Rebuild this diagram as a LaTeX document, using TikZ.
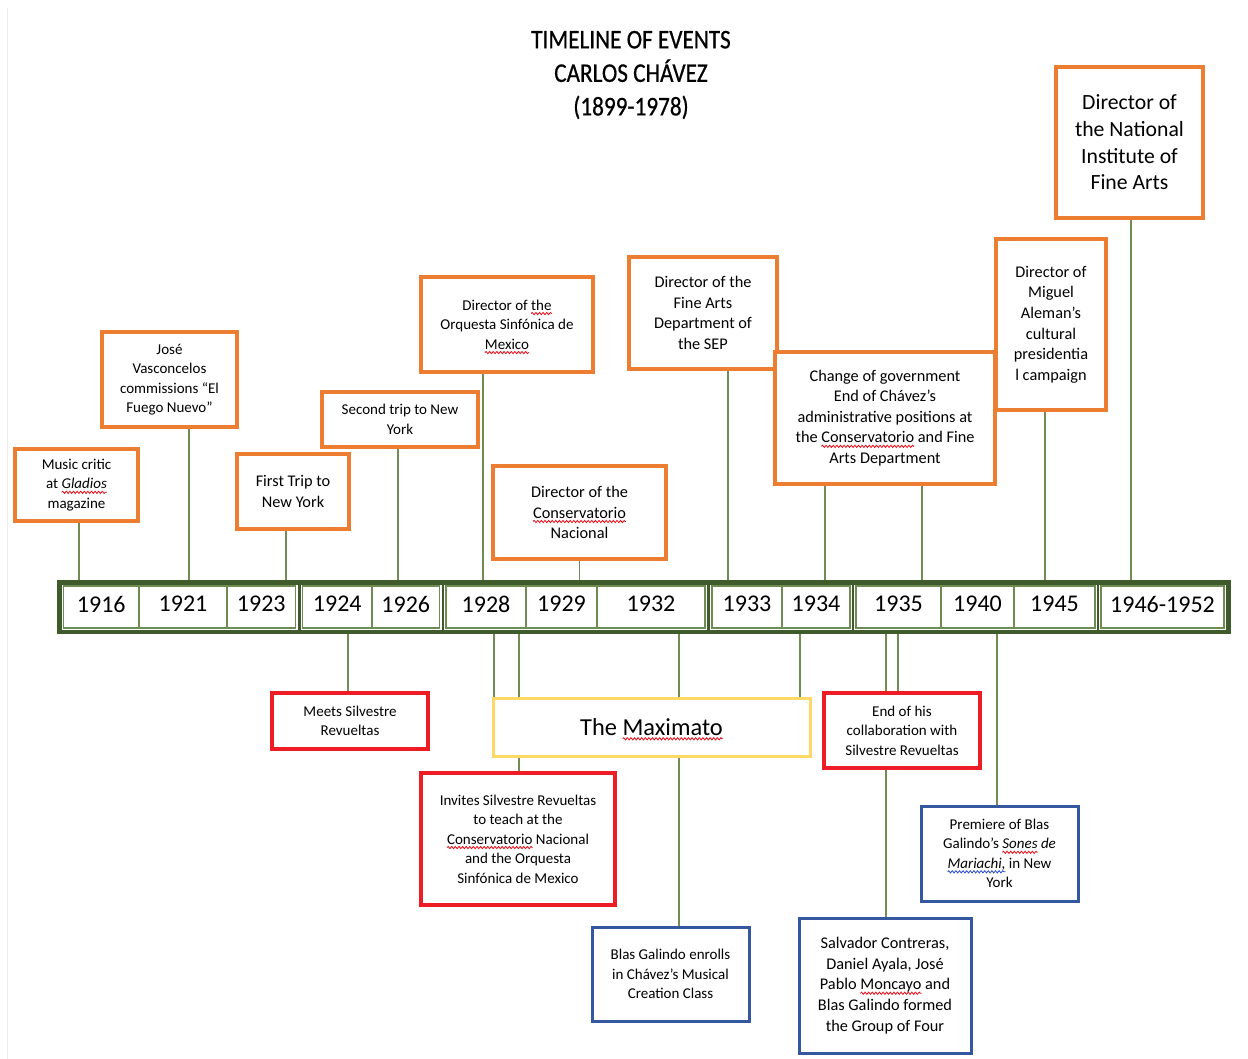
\documentclass[tikz,border=0pt]{standalone}
\usepackage{fontspec}
\setmainfont{Carlito}
\newfontfamily\titlefont[FakeStretch=0.86,FakeBold=0.6]{Carlito}
\usetikzlibrary{decorations.pathmorphing}
\definecolor{orangeC}{HTML}{ED7D31}
\definecolor{redC}{HTML}{EE1C25}
\definecolor{yellowC}{HTML}{FFD966}
\definecolor{blueC}{HTML}{3457A0}
\definecolor{lineG}{HTML}{718C50}
\definecolor{barG}{HTML}{3F5A2B}
\definecolor{thinG}{HTML}{6E8B52}
\definecolor{spellred}{HTML}{E8141E}
\definecolor{spellblue}{HTML}{2F4FD0}
\newsavebox\wavebox
\newcommand\wave[2]{\sbox\wavebox{#2}\tikz[overlay,baseline=0pt]\draw[draw=#1, line width=0.85pt, decorate, decoration={snake, amplitude=1.1pt, segment length=3.6pt}] (0pt,-3.4pt) -- (\the\wd\wavebox,-3.4pt);\usebox\wavebox}
\newcommand\redwave[1]{\wave{spellred}{#1}}
\newcommand\bluewave[1]{\wave{spellblue}{#1}}
\tikzset{
  box/.style={line width=3.2pt, fill=white, inner sep=0pt, align=center},
  obox/.style={box, draw=orangeC},
  rbox/.style={box, draw=redC},
  ybox/.style={box, draw=yellowC, line width=3pt},
  bbox/.style={box, draw=blueC, line width=3pt},
  conn/.style={draw=lineG, line width=1.8pt},
  gline/.style={draw=thinG, line width=1.8pt},
  sm/.style={font=\fontsize{15}{19.5}\selectfont},
  md/.style={font=\fontsize{16.3}{20.6}\selectfont},
  yr/.style={font=\fontsize{24}{28}\selectfont, inner sep=0pt},
}
\begin{document}
\begin{tikzpicture}[x=1pt,y=-1pt]
\useasboundingbox (0,0) rectangle (1248,1059);
\draw[black!7, line width=1pt] (7.5,8) -- (7.5,1059);

% title
\node[font=\titlefont\fontsize{27}{33.5}\selectfont, align=center] (title) at (631,75)
  {TIMELINE OF EVENTS\\CARLOS CHÁVEZ\\(1899-1978)};

% timeline bar
\node[fill=barG, minimum width=1174pt, minimum height=54pt, inner sep=0pt] (bar) at (644,607) {};
\foreach \a/\b in {63.5/295.5, 302.5/439.5, 446/705, 712/850, 856/1095, 1101/1224} {
  \fill[white] (\a-2,584.5) rectangle (\b+2,630.3);
  \draw[gline] (\a,586.3) rectangle (\b,628.3);
}
\foreach \x in {139,227,372,526,597,782,941,1014}
  \draw[gline] (\x,586.3) -- (\x,628.3);
\node[yr] (y1916) at (101.25,604) {1916};
\node[yr] (y1921) at (183,604) {1921};
\node[yr] (y1923) at (261.25,604) {1923};
\node[yr] (y1924) at (337.25,604) {1924};
\node[yr] (y1926) at (405.75,604) {1926};
\node[yr] (y1928) at (486,604) {1928};
\node[yr] (y1929) at (561.5,604) {1929};
\node[yr] (y1932) at (651,604) {1932};
\node[yr] (y1933) at (747,604) {1933};
\node[yr] (y1934) at (816,604) {1934};
\node[yr] (y1935) at (898.5,604) {1935};
\node[yr] (y1940) at (977.5,604) {1940};
\node[yr] (y1945) at (1054.5,604) {1945};
\node[yr] (y1946) at (1162.5,604) {1946-1952};

% upper boxes
\node[obox, sm, minimum width=123pt, minimum height=72pt] (music) at (76.5,485)
  {Music critic\\at {\itshape\redwave{Gladios}}\\magazine};
\node[obox, sm, minimum width=135pt, minimum height=95pt] (jose) at (169.5,379.5)
  {José\\Vasconcelos\\commissions “El\\Fuego Nuevo”};
\node[obox, md, minimum width=112pt, minimum height=75pt] (first) at (293,491.5)
  {First Trip to\\New York};
\node[obox, sm, minimum width=156pt, minimum height=55pt] (second) at (400,419.5)
  {Second trip to New\\York};
\node[obox, sm, minimum width=172pt, minimum height=95pt] (orq) at (507,324.5)
  {Director of \redwave{the}\\Orquesta Sinfónica de\\\redwave{Mexico}};
\node[obox, md, minimum width=173pt, minimum height=93pt] (cons) at (579.5,512.5)
  {Director of the\\\redwave{Conservatorio}\\Nacional};
\node[obox, md, minimum width=148pt, minimum height=112pt] (sep) at (703,313)
  {Director of the\\Fine Arts\\Department of\\the SEP};
\node[obox, md, minimum width=220pt, minimum height=132pt] (change) at (885,418)
  {Change of government\\End of Chávez’s\\administrative positions at\\the \redwave{Conservatorio} and Fine\\Arts Department};
\node[obox, md, minimum width=110pt, minimum height=171pt] (miguel) at (1051,324.5)
  {Director of\\Miguel\\Aleman’s\\cultural\\presidentia\\l campaign};
\node[obox, font=\fontsize{21.7}{26.7}\selectfont, minimum width=147pt, minimum height=151pt] (inba) at (1129.5,142.5)
  {Director of\\the National\\Institute of\\Fine Arts};

% upper connectors
\draw[conn] ([xshift=2.5pt]music.south) -- ([xshift=2.5pt]music.south |- bar.north);
\draw[conn] ([xshift=19.5pt]jose.south) -- ([xshift=19.5pt]jose.south |- bar.north);
\draw[conn] ([xshift=-7pt]first.south) -- ([xshift=-7pt]first.south |- bar.north);
\draw[conn] ([xshift=-2pt]second.south) -- ([xshift=-2pt]second.south |- bar.north);
\draw[conn] ([xshift=-24pt]orq.south) -- ([xshift=-24pt]orq.south |- bar.north);
\draw[conn] (cons.south) -- (cons.south |- bar.north);
\draw[conn] ([xshift=25pt]sep.south) -- ([xshift=25pt]sep.south |- bar.north);
\draw[conn] ([xshift=-60pt]change.south) -- ([xshift=-60pt]change.south |- bar.north);
\draw[conn] ([xshift=37pt]change.south) -- ([xshift=37pt]change.south |- bar.north);
\draw[conn] ([xshift=-6pt]miguel.south) -- ([xshift=-6pt]miguel.south |- bar.north);
\draw[conn] ([xshift=1.5pt]inba.south) -- ([xshift=1.5pt]inba.south |- bar.north);

% lower boxes
\node[rbox, sm, minimum width=156pt, minimum height=56pt] (meets) at (350,721)
  {Meets Silvestre\\Revueltas};
\node[ybox, font=\fontsize{24.4}{28}\selectfont, minimum width=317pt, minimum height=58pt] (maximato) at (651.5,727)
  {The \redwave{Maximato}};
\node[rbox, sm, minimum width=194pt, minimum height=132pt] (invites) at (518,839)
  {Invites Silvestre Revueltas\\to teach at the\\\redwave{Conservatorio} Nacional\\and the Orquesta\\Sinfónica de Mexico};
\node[bbox, sm, minimum width=157pt, minimum height=94pt] (enrolls) at (670.5,974)
  {Blas Galindo enrolls\\in Chávez’s Musical\\Creation Class};
\node[rbox, sm, minimum width=156pt, minimum height=75pt] (endcollab) at (902,730.5)
  {End of his\\collaboration with\\Silvestre Revueltas};
\node[bbox, sm, minimum width=157pt, minimum height=95pt] (premiere) at (999.5,853.5)
  {Premiere of Blas\\Galindo’s {\itshape\redwave{Sones} de}\\{\itshape\bluewave{Mariachi,}} in New\\York};
\node[bbox, md, minimum width=172pt, minimum height=135pt] (salvador) at (885,985.5)
  {Salvador Contreras,\\Daniel Ayala, José\\Pablo \redwave{Moncayo} and\\Blas Galindo formed\\the Group of Four};

% lower connectors
\draw[conn] ([xshift=-2pt]meets.north) -- ([xshift=-2pt]meets.north |- bar.south);
\draw[conn] ([xshift=-157.5pt]maximato.north) -- ([xshift=-157.5pt]maximato.north |- bar.south);
\draw[conn] ([xshift=-132.5pt]maximato.north) -- ([xshift=-132.5pt]maximato.north |- bar.south);
\draw[conn] ([xshift=27.5pt]maximato.north) -- ([xshift=27.5pt]maximato.north |- bar.south);
\draw[conn] ([xshift=148.5pt]maximato.north) -- ([xshift=148.5pt]maximato.north |- bar.south);
\draw[conn] ([xshift=-132.5pt]maximato.south) -- ([xshift=-132.5pt]maximato.south |- invites.north);
\draw[conn] ([xshift=27.5pt]maximato.south) -- ([xshift=27.5pt]maximato.south |- enrolls.north);
\draw[conn] ([xshift=-16pt]endcollab.north) -- ([xshift=-16pt]endcollab.north |- bar.south);
\draw[conn] ([xshift=-4pt]endcollab.north) -- ([xshift=-4pt]endcollab.north |- bar.south);
\draw[conn] ([xshift=-16pt]endcollab.south) -- ([xshift=-16pt]endcollab.south |- salvador.north);
\draw[conn] ([xshift=-2.5pt]premiere.north) -- ([xshift=-2.5pt]premiere.north |- bar.south);
\end{tikzpicture}
\end{document}
